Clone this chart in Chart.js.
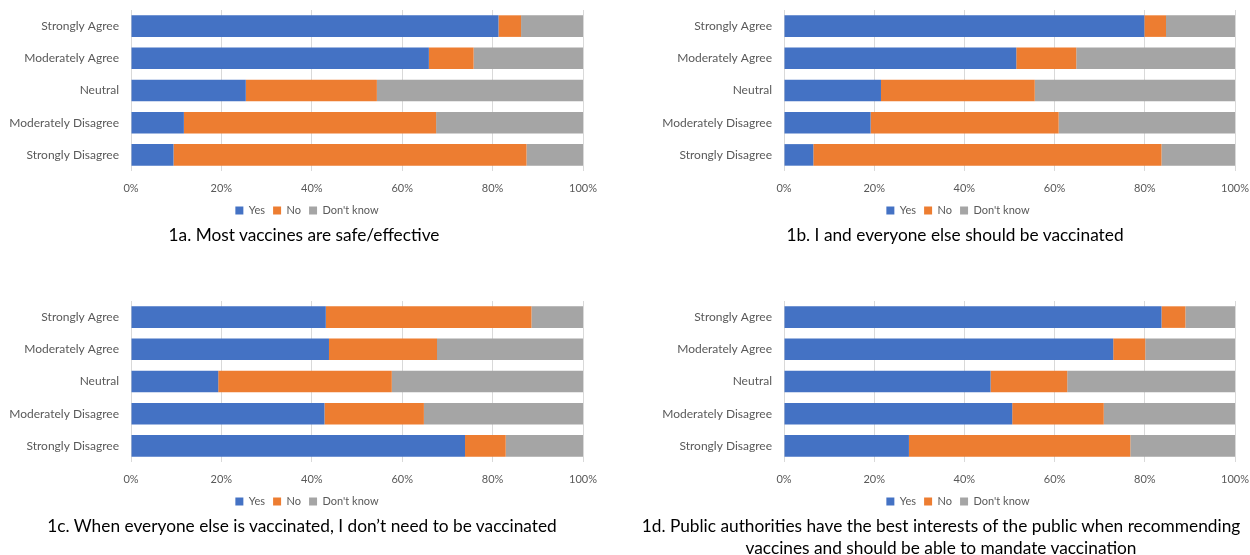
<!DOCTYPE html>
<html>
<head>
<meta charset="utf-8">
<script src="https://cdn.jsdelivr.net/npm/chart.js@4"></script>
<style>
  body { margin: 0; background: #fff; width: 1250px; height: 555px; overflow: hidden; position: relative; font-family: Lato, "Open Sans", sans-serif; }
  .panel { position: absolute; }
  .caption { position: absolute; text-align: center; font-size: 17.3px; color: #000; white-space: nowrap; line-height: 22px; }
</style>
</head>
<body>
<div class="panel" style="left:0;top:0;"><canvas id="c1a" width="614" height="226"></canvas></div>
<div class="panel" style="left:625px;top:0;"><canvas id="c1b" width="666" height="226"></canvas></div>
<div class="panel" style="left:0;top:291px;"><canvas id="c1c" width="614" height="226"></canvas></div>
<div class="panel" style="left:625px;top:291px;"><canvas id="c1d" width="666" height="226"></canvas></div>
<div class="caption" style="left:4px;width:600px;top:224px;">1a. Most vaccines are safe/effective</div>
<div class="caption" style="left:655px;width:600px;top:224px;">1b. I and everyone else should be vaccinated</div>
<div class="caption" style="left:2px;width:600px;top:515px;">1c. When everyone else is vaccinated, I don’t need to be vaccinated</div>
<div class="caption" style="left:641px;width:600px;top:515px;">1d. Public authorities have the best interests of the public when recommending<br>vaccines and should be able to mandate vaccination</div>
<script>
const categories = ['Strongly Agree', 'Moderately Agree', 'Neutral', 'Moderately Disagree', 'Strongly Disagree'];
const seriesNames = ['Yes', 'No', "Don't know"];
const xTicks = [0, 20, 40, 60, 80, 100];

// panel 1a
const yes1a = [81.3, 65.9, 25.4, 11.7, 9.4];
const no1a = [5.0, 9.9, 29.0, 55.8, 78.1];
const dk1a = [13.7, 24.2, 45.6, 32.5, 12.5];
// panel 1b
const yes1b = [79.9, 51.5, 21.5, 19.2, 6.5];
const no1b = [4.8, 13.3, 34.1, 41.7, 77.2];
const dk1b = [15.3, 35.2, 44.4, 39.1, 16.3];
// panel 1c
const yes1c = [43.1, 43.8, 19.3, 42.8, 73.9];
const no1c = [45.5, 23.9, 38.4, 22.0, 9.0];
const dk1c = [11.4, 32.3, 42.3, 35.2, 17.1];
// panel 1d
const yes1d = [83.7, 73.0, 45.8, 50.6, 27.7];
const no1d = [5.3, 7.1, 17.0, 20.3, 49.1];
const dk1d = [11.0, 19.9, 37.2, 29.1, 23.2];

const colors = ['#4472C4', '#ED7D31', '#A5A5A5'];
const textColor = '#595959';
const gridColor = '#D9D9D9';
const fontFamily = 'Lato, "Open Sans", sans-serif';

// leftW: width of the category axis, rightW: empty space right of the plot
// (keeps the legend centred where the original has it)
function makeChart(id, yes, no, dk, leftW, rightW) {
    const ctx = document.getElementById(id).getContext('2d');
    const series = [yes, no, dk];
    return new Chart(ctx, {
        type: 'bar',
        data: {
            labels: categories,
            datasets: series.map((vals, i) => ({
                label: seriesNames[i],
                data: vals,
                backgroundColor: colors[i],
                borderWidth: 0,
                categoryPercentage: 1,
                barPercentage: 0.67
            }))
        },
        options: {
            indexAxis: 'y',
            responsive: false,
            animation: false,
            layout: { padding: { top: 10, left: 0, right: 0, bottom: 0 } },
            scales: {
                x: {
                    stacked: true,
                    min: 0,
                    max: 100,
                    afterBuildTicks: (scale) => { scale.ticks = xTicks.map(v => ({ value: v })); },
                    afterFit: (scale) => { scale.height = 26; },
                    grid: { color: gridColor, drawTicks: false, lineWidth: 1 },
                    border: { display: false },
                    ticks: {
                        padding: 11,
                        color: textColor,
                        font: { family: fontFamily, size: 11 },
                        callback: (v) => v + '%'
                    }
                },
                y: {
                    stacked: true,
                    afterFit: (scale) => {
                        scale.width = leftW;
                        scale.paddingTop = 0;
                        scale.paddingBottom = 0;
                    },
                    grid: { display: false, drawTicks: false },
                    border: { display: false },
                    ticks: {
                        padding: 12,
                        color: textColor,
                        font: { family: fontFamily, size: 12 }
                    }
                },
                spacer: {
                    type: 'linear',
                    position: 'right',
                    afterFit: (scale) => {
                        scale.width = rightW;
                        scale.paddingTop = 0;
                        scale.paddingBottom = 0;
                    },
                    grid: { display: false, drawTicks: false },
                    border: { display: false },
                    ticks: { display: false }
                }
            },
            plugins: {
                legend: {
                    position: 'bottom',
                    labels: {
                        boxWidth: 8,
                        boxHeight: 8,
                        padding: 8,
                        color: textColor,
                        font: { family: fontFamily, size: 11 }
                    }
                },
                tooltip: { enabled: false }
            }
        }
    });
}

makeChart('c1a', yes1a, no1a, dk1a, 131, 31);
makeChart('c1b', yes1b, no1b, dk1b, 159, 56);
makeChart('c1c', yes1c, no1c, dk1c, 131, 31);
makeChart('c1d', yes1d, no1d, dk1d, 159, 56);
</script>
</body>
</html>
